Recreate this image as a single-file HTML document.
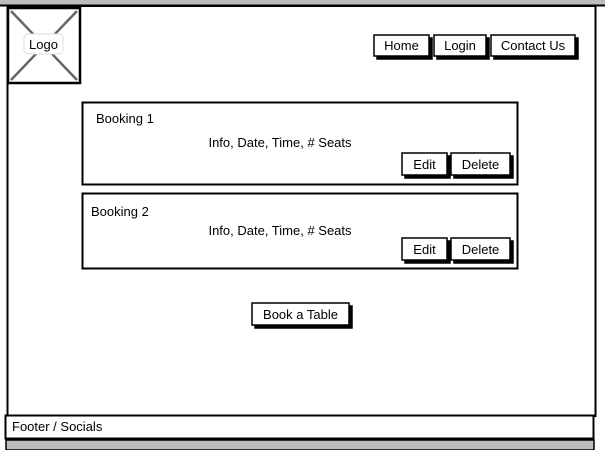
<!DOCTYPE html>
<html><head><style>
html,body{margin:0;padding:0;background:#fff;}
svg text{font-family:"Liberation Sans",sans-serif;font-size:13px;fill:#000;}
</style></head><body>
<svg width="605" height="450" viewBox="0 0 605 450" xmlns="http://www.w3.org/2000/svg">
<rect x="0" y="0" width="605" height="6" fill="#bdbdbd"/>
<line x1="0" y1="5.5" x2="605" y2="5.5" stroke="#000" stroke-width="2"/>
<rect x="7.5" y="6" width="588" height="410" fill="#fff" stroke="#000" stroke-width="2"/>
<!-- logo -->
<rect x="8" y="8" width="72" height="75" fill="#fff" stroke="#000" stroke-width="2.5"/>
<line x1="11" y1="11" x2="77" y2="80" stroke="#666" stroke-width="2.5"/>
<line x1="77" y1="11" x2="11" y2="80" stroke="#666" stroke-width="2.5"/>
<rect x="24" y="34" width="39" height="20" rx="4" fill="#fff" stroke="#ddd"/>
<text x="43.5" y="49" text-anchor="middle">Logo</text>
<!-- nav buttons -->
<g stroke="#000" stroke-width="1.5">
<rect x="377" y="38" width="55" height="21" fill="#000"/>
<rect x="374" y="35" width="55" height="21" fill="#fff"/>
<rect x="437" y="38" width="52" height="21" fill="#000"/>
<rect x="434" y="35" width="52" height="21" fill="#fff"/>
<rect x="494" y="38" width="84" height="21" fill="#000"/>
<rect x="491" y="35" width="84" height="21" fill="#fff"/>
</g>
<text x="401.5" y="50" text-anchor="middle">Home</text>
<text x="460" y="50" text-anchor="middle">Login</text>
<text x="533" y="50" text-anchor="middle">Contact Us</text>
<!-- booking 1 -->
<rect x="82.5" y="102.5" width="435" height="82" fill="#fff" stroke="#000" stroke-width="2"/>
<text x="96" y="123">Booking 1</text>
<text x="280" y="147" text-anchor="middle">Info, Date, Time, # Seats</text>
<!-- booking 2 -->
<rect x="82.5" y="193.5" width="435" height="75" fill="#fff" stroke="#000" stroke-width="2"/>
<text x="91" y="216">Booking 2</text>
<text x="280" y="235" text-anchor="middle">Info, Date, Time, # Seats</text>
<g stroke="#000" stroke-width="1.5">
<rect x="405" y="156" width="45" height="22" fill="#000"/>
<rect x="402" y="153" width="45" height="22" fill="#fff"/>
<rect x="454" y="156" width="59" height="22" fill="#000"/>
<rect x="451" y="153" width="59" height="22" fill="#fff"/>
<rect x="405" y="241" width="45" height="22" fill="#000"/>
<rect x="402" y="238" width="45" height="22" fill="#fff"/>
<rect x="454" y="241" width="59" height="22" fill="#000"/>
<rect x="451" y="238" width="59" height="22" fill="#fff"/>
<rect x="255" y="306" width="97" height="22" fill="#000"/>
<rect x="252" y="303" width="97" height="22" fill="#fff"/>
</g>
<text x="424.5" y="169" text-anchor="middle">Edit</text>
<text x="480.5" y="169" text-anchor="middle">Delete</text>
<text x="424.5" y="254" text-anchor="middle">Edit</text>
<text x="480.5" y="254" text-anchor="middle">Delete</text>
<text x="300.5" y="319" text-anchor="middle">Book a Table</text>
<!-- footer -->
<rect x="5.5" y="415.5" width="588" height="23" fill="#fff" stroke="#000" stroke-width="2"/>
<text x="12" y="431">Footer / Socials</text>
<rect x="6" y="440" width="588" height="10" fill="#bdbdbd" stroke="#000" stroke-width="1.5"/>
</svg>
</body></html>
